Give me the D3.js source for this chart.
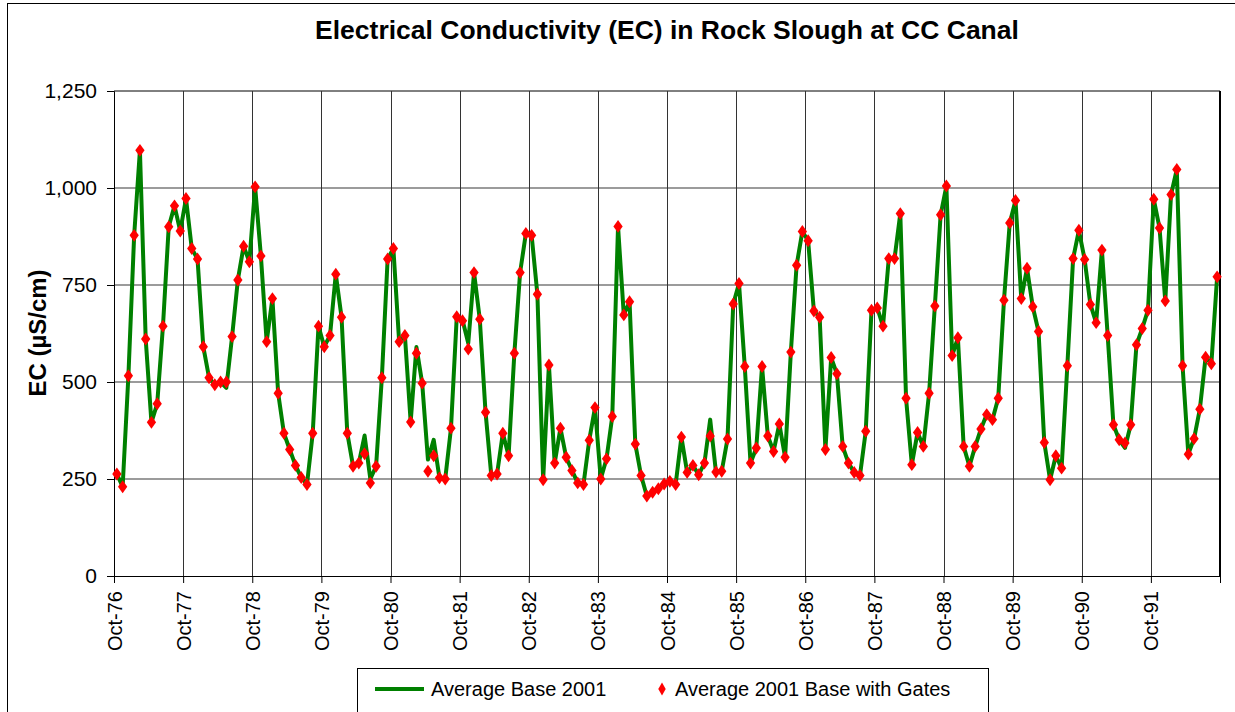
<!DOCTYPE html>
<html>
<head>
<meta charset="utf-8">
<script src="https://cdn.jsdelivr.net/npm/d3@7"></script>
<style>
  html, body { margin: 0; padding: 0; background: #fff; }
  svg { display: block; font-family: "Liberation Sans", Arial, sans-serif; }
</style>
</head>
<body>
<svg id="chart" width="1235" height="712"></svg>
<script>
// ---- data (monthly, Oct-76 .. Sep-92) ----
const title = "Electrical Conductivity (EC) in Rock Slough at CC Canal";
const yLabel = "EC (µS/cm)";
const seriesNames = ["Average Base 2001", "Average 2001 Base with Gates"];
const xTickLabels = ["Oct-76","Oct-77","Oct-78","Oct-79","Oct-80","Oct-81","Oct-82","Oct-83",
                     "Oct-84","Oct-85","Oct-86","Oct-87","Oct-88","Oct-89","Oct-90","Oct-91",""];
const yTicks = [0, 250, 500, 750, 1000, 1250];

const base2001 = [
  263,230,516,878,1097,611,396,444,644,900,954,889,
  973,844,817,591,511,493,500,485,617,763,850,810,
  1003,825,604,715,471,368,326,285,254,236,368,644,
  591,620,778,667,368,283,291,362,250,283,511,817,
  844,604,620,397,590,497,300,351,253,250,381,668,
  660,600,782,662,422,259,263,368,310,574,782,883,
  878,726,248,544,291,381,306,272,240,236,350,434,
  250,302,411,901,673,707,340,259,206,216,225,237,
  244,236,358,267,285,261,291,403,268,270,353,701,
  754,540,291,330,540,361,321,392,306,577,801,888,
  864,683,667,326,563,521,334,291,267,259,373,685,
  691,644,818,818,934,458,287,370,334,471,696,931,
  1005,568,614,334,283,334,379,416,403,458,711,910,
  968,715,793,694,630,344,248,310,278,542,818,891,
  816,700,653,840,620,390,351,330,390,596,638,685,
  971,897,709,983,1048,542,314,354,430,564,547,771
];
const baseWithGates = [
  263,230,516,878,1097,611,396,444,644,900,954,889,
  973,844,817,591,511,493,500,500,617,763,850,810,
  1003,825,604,715,471,368,326,285,254,236,368,644,
  591,620,778,667,368,283,291,315,240,283,511,817,
  844,604,620,397,574,497,270,310,253,250,381,668,
  658,585,782,662,422,259,263,368,310,574,782,883,
  878,726,248,544,291,381,306,272,240,236,350,434,
  250,302,411,901,673,707,340,259,206,216,225,237,
  244,236,358,267,285,261,291,361,268,270,353,701,
  754,540,291,330,540,361,321,392,306,577,801,888,
  864,683,667,326,563,521,334,291,267,259,373,685,
  691,644,818,818,934,458,287,370,334,471,696,931,
  1005,568,614,334,283,334,379,416,403,458,711,910,
  968,715,793,694,630,344,248,310,278,542,818,891,
  816,700,653,840,620,390,351,343,390,596,638,685,
  971,897,709,983,1048,542,314,354,430,564,547,771
];

// ---- layout ----
const svg = d3.select("#chart");
const plot = { left: 114, right: 1220, top: 91, bottom: 576 };
const nMonths = base2001.length;

const x = d3.scaleLinear().domain([0, nMonths]).range([plot.left, plot.right]);
const y = d3.scaleLinear().domain([0, 1250]).range([plot.bottom, plot.top]);

// outer frame
svg.append("rect").attr("x", 7.5).attr("y", 3.5).attr("width", 1240).attr("height", 720)
  .attr("fill", "none").attr("stroke", "#000").attr("stroke-width", 1);

// title
svg.append("text").attr("x", 667).attr("y", 39).attr("text-anchor", "middle")
  .style("font-size", "26.5px").style("font-weight", "bold").text(title);

// horizontal gridlines
svg.append("g").selectAll("line").data(yTicks.filter(d => d > 0)).join("line")
  .attr("x1", plot.left).attr("x2", plot.right)
  .attr("y1", d => y(d)).attr("y2", d => y(d))
  .attr("stroke", d => d === 1250 ? "#000" : "#7a7a7a")
  .attr("stroke-width", d => d === 1250 ? 1 : 1.6);

// vertical gridlines (yearly)
const yearTicks = d3.range(0, nMonths + 1, 12);
svg.append("g").selectAll("line").data(yearTicks.filter(d => d > 0 && d < nMonths)).join("line")
  .attr("x1", d => Math.round(x(d)) + 0.5).attr("x2", d => Math.round(x(d)) + 0.5)
  .attr("y1", plot.top).attr("y2", plot.bottom)
  .attr("stroke", "#333").attr("stroke-width", 1);

// right border
svg.append("line").attr("x1", plot.right).attr("x2", plot.right)
  .attr("y1", plot.top).attr("y2", plot.bottom)
  .attr("stroke", "#000").attr("stroke-width", 2);

// y axis
const yAxis = d3.axisLeft(y).tickValues(yTicks).tickFormat(d3.format(",")).tickSizeOuter(0).tickSize(7).tickPadding(10);
const gy = svg.append("g").attr("transform", `translate(${plot.left},0)`).call(yAxis);
gy.selectAll("text").style("font-size", "21px").attr("fill", "#000");
gy.selectAll("line, path").attr("stroke", "#000");

// x axis
const xAxis = d3.axisBottom(x).tickValues(yearTicks).tickFormat((d, i) => xTickLabels[i]).tickSizeOuter(0).tickSize(7);
const gx = svg.append("g").attr("transform", `translate(0,${plot.bottom})`).call(xAxis);
gx.selectAll("line, path").attr("stroke", "#000");
gx.selectAll("text")
  .style("font-size", "20px").attr("fill", "#000")
  .attr("text-anchor", "end")
  .attr("transform", "rotate(-90)")
  .attr("x", -15).attr("y", 0).attr("dy", "0.35em");

// y label
svg.append("text").attr("transform", "translate(46,333) rotate(-90)")
  .attr("text-anchor", "middle").style("font-size", "24px").style("font-weight", "bold")
  .text(yLabel);

// line series
const line = d3.line().x((d, i) => x(i + 0.5)).y(d => y(d));
svg.append("path").datum(base2001).attr("d", line)
  .attr("fill", "none").attr("stroke", "#008000").attr("stroke-width", 4)
  .attr("stroke-linejoin", "round");

// marker series
const diamond = d3.symbol().type(d3.symbolDiamond).size(48);
svg.append("g").selectAll("path").data(baseWithGates).join("path")
  .attr("transform", (d, i) => `translate(${x(i + 0.5)},${y(d)}) scale(1.25,1)`)
  .attr("d", diamond).attr("fill", "#ff0000");

// legend
const lg = svg.append("g");
lg.append("rect").attr("x", 357.5).attr("y", 668.5).attr("width", 631).attr("height", 70)
  .attr("fill", "#fff").attr("stroke", "#000").attr("stroke-width", 1);
lg.append("line").attr("x1", 375).attr("x2", 424).attr("y1", 689).attr("y2", 689)
  .attr("stroke", "#008000").attr("stroke-width", 4);
lg.append("text").attr("x", 431).attr("y", 696).style("font-size", "20px").text(seriesNames[0]);
lg.append("path").attr("transform", "translate(662,689)").attr("d", diamond).attr("fill", "#ff0000");
lg.append("text").attr("x", 675).attr("y", 696).style("font-size", "20px").text(seriesNames[1]);
</script>
</body>
</html>
